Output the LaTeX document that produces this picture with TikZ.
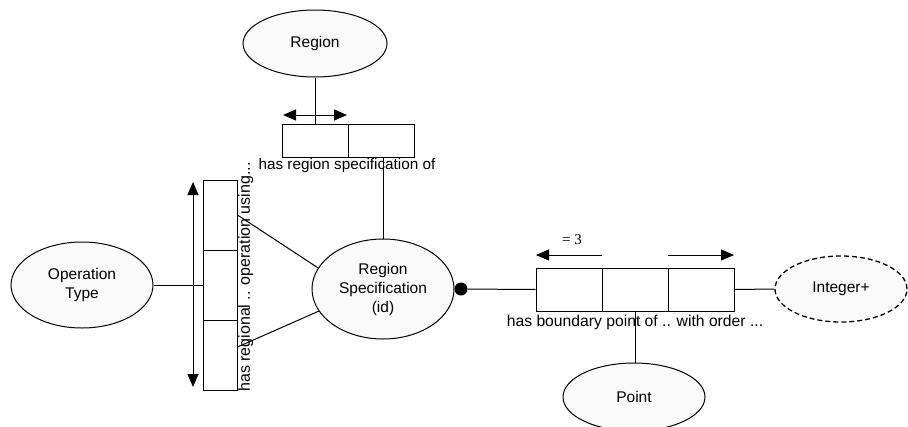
\documentclass[tikz,border=0pt]{standalone}
\usepackage{fontspec}
\setmainfont{Liberation Sans}
\newfontfamily\numfont{Liberation Serif}
\usetikzlibrary{shapes.geometric,arrows.meta,calc}
\begin{document}
\begin{tikzpicture}[x=1pt,y=-1pt,
  ent/.style={ellipse,draw,fill=gray!4,line width=1pt,inner sep=0pt,align=center,
    font=\fontsize{15.5}{19}\selectfont},
  cell/.style={draw,fill=white,line width=1pt,inner sep=0pt},
  conn/.style={line width=1pt},
  tip/.tip={Triangle[length=13pt,width=11pt]},
  dir/.style={line width=1pt,-tip},
  lbl/.style={inner sep=0pt},
]
\useasboundingbox (0,0) rectangle (908,426);
\clip (0,0) rectangle (908,426);

% --- Region and its two-cell role box ---
\node[ent,minimum width=144pt,minimum height=67pt] (region) at (315,43.5) {Region};
\node[cell,minimum width=66pt,minimum height=33pt] (rc1) at (315,140.5) {};
\node[cell,minimum width=66pt,minimum height=33pt] (rc2) at (381,140.5) {};
\node[lbl,anchor=north,font=\fontsize{15.3}{17}\selectfont] (rlbl) at (347,158)
  {has region specification of};
\coordinate (ra1) at (283,115);
\coordinate (ra2) at (347,115);
\draw[line width=1pt,tip-tip] (ra1) -- (ra2);
\draw[conn] (region.south) -- (rc1.north);

% --- Region Specification ---
\node[ent,minimum width=142pt,minimum height=100pt] (rs) at (383,289)
  {Region\\Specification\\(id)};
\draw[conn] (rc2.south -| rs.north) -- (rs.north);

% --- Operation Type and its three-cell role box ---
\node[ent,minimum width=142pt,minimum height=86pt] (ot) at (82,285) {Operation\\Type};
\node[cell,minimum width=34pt,minimum height=70pt] (oc1) at (220,215) {};
\node[cell,minimum width=34pt,minimum height=70pt] (oc2) at (220,285) {};
\node[cell,minimum width=34pt,minimum height=70pt] (oc3) at (220,355) {};
\node[lbl,rotate=90,anchor=north,font=\fontsize{16}{18}\selectfont] (olbl) at (238,277)
  {has regional .. operation using...};
\coordinate (oa1) at (193,182);
\coordinate (oa2) at (193,387);
\draw[line width=1pt,tip-tip] (oa1) -- (oa2);
\draw[conn] (ot.east) -- (oc2.west);
\draw[conn] (oc1.east) -- (rs.162);
\draw[conn] ($(oc3.east)+(0,-8)$) -- (rs.199);

% --- boundary point role box ---
\node[circle,fill=black,inner sep=0pt,minimum size=13pt] (dot) at (461,289) {};
\node[cell,minimum width=66pt,minimum height=43pt] (rb1) at (569,289.5) {};
\node[cell,minimum width=66pt,minimum height=43pt] (rb2) at (635,289.5) {};
\node[cell,minimum width=66pt,minimum height=43pt] (rb3) at (701,289.5) {};
\node[lbl,anchor=north,font=\fontsize{15.7}{18}\selectfont] (blbl) at (635,314.5)
  {has boundary point of .. with order ...};
\node[lbl,font=\numfont\fontsize{15}{17}\selectfont] (eq) at (572,240) {= 3};
\coordinate (ba1) at (602,255);
\coordinate (ba2) at (536,255);
\coordinate (ba3) at (668,255);
\coordinate (ba4) at (734,255);
\draw[dir] (ba1) -- (ba2);
\draw[dir] (ba3) -- (ba4);
\draw[conn] (dot) -- (rb1.west);

% --- Point and Integer+ ---
\node[ent,minimum width=142pt,minimum height=68pt] (pt) at (634,397) {Point};
\node[ent,line width=1.3pt,dash pattern=on 5pt off 3pt,minimum width=132pt,minimum height=66pt]
  (int) at (841,289) {Integer+};
\draw[conn] (rb2.south) -- (rb2.south |- pt.north);
\draw[conn] (rb3.east) -- (int.west);
\end{tikzpicture}
\end{document}
